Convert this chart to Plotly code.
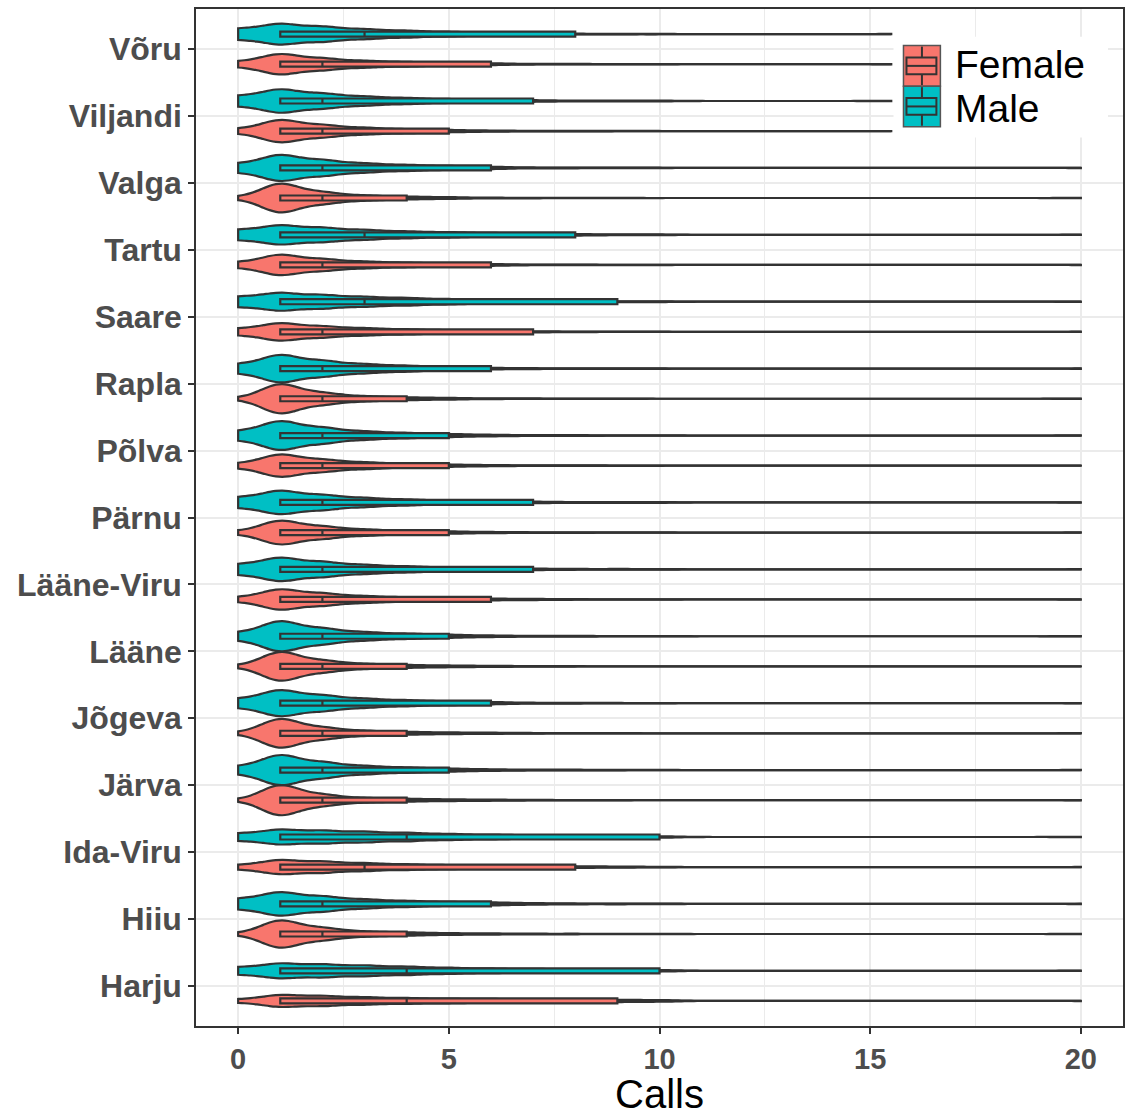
import numpy as np
import plotly.graph_objects as go

# Counties, listed bottom to top
counties = ["Harju", "Hiiu", "Ida-Viru", "Järva", "Jõgeva", "Lääne", "Lääne-Viru",
            "Pärnu", "Põlva", "Rapla", "Saare", "Tartu", "Valga", "Viljandi", "Võru"]

# Share of respondents (%) making 0, 1, ..., 10 calls
calls_grid = [0, 1, 2, 3, 4, 5, 6, 7, 8, 9, 10]

female_pct = [
    [6, 22, 18, 13, 10, 8, 7, 5, 4, 4, 3],          # Harju
    [3, 52, 22, 9, 6, 3, 2, 1, 1, 0.5, 0.5],        # Hiiu
    [8, 26, 20, 14, 10, 7, 5, 4, 3, 2, 1],          # Ida-Viru
    [2, 58, 20, 8, 5, 3, 2, 1, 0.5, 0.5, 0],        # Järva
    [3, 55, 21, 9, 5, 3, 2, 1, 0.5, 0.5, 0],        # Jõgeva
    [3, 55, 21, 9, 5, 3, 2, 1, 0.5, 0.5, 0],        # Lääne
    [8, 38, 22, 12, 8, 5, 3, 2, 1, 0.5, 0.5],       # Lääne-Viru
    [6, 45, 22, 11, 7, 4, 2, 1, 1, 0.5, 0.5],       # Pärnu
    [8, 42, 22, 12, 7, 4, 2, 1, 1, 0.5, 0.5],       # Põlva
    [3, 56, 21, 9, 5, 3, 1, 1, 0.5, 0.5, 0],        # Rapla
    [12, 32, 20, 13, 9, 6, 4, 2, 1, 0.5, 0.5],      # Saare
    [10, 38, 21, 12, 8, 5, 3, 1, 1, 0.5, 0.5],      # Tartu
    [4, 55, 21, 9, 5, 3, 1, 1, 0.5, 0.5, 0],        # Valga
    [8, 42, 22, 12, 7, 4, 2, 1, 1, 0.5, 0.5],       # Viljandi
    [10, 38, 21, 12, 8, 5, 3, 1, 1, 0.5, 0.5],      # Võru
]
male_pct = [
    [10, 20, 17, 14, 11, 8, 6, 5, 4, 3, 2],         # Harju
    [14, 32, 20, 12, 8, 5, 4, 2, 1, 1, 1],          # Hiiu
    [10, 20, 17, 14, 11, 8, 6, 5, 4, 3, 2],         # Ida-Viru
    [10, 42, 21, 11, 7, 4, 2, 1, 1, 0.5, 0.5],      # Järva
    [12, 36, 21, 12, 8, 5, 3, 1, 1, 0.5, 0.5],      # Jõgeva
    [10, 42, 21, 11, 7, 4, 2, 1, 1, 0.5, 0.5],      # Lääne
    [14, 32, 20, 12, 8, 5, 4, 2, 1, 1, 1],          # Lääne-Viru
    [14, 32, 20, 12, 8, 5, 4, 2, 1, 1, 1],          # Pärnu
    [12, 40, 21, 11, 7, 4, 2, 1, 1, 0.5, 0.5],      # Põlva
    [12, 38, 21, 12, 8, 4, 2, 1, 1, 0.5, 0.5],      # Rapla
    [14, 24, 18, 13, 10, 7, 5, 4, 3, 1, 1],         # Saare
    [14, 26, 19, 13, 9, 7, 5, 3, 2, 1, 1],          # Tartu
    [12, 36, 21, 12, 8, 5, 3, 1, 1, 0.5, 0.5],      # Valga
    [14, 32, 20, 12, 8, 5, 4, 2, 1, 1, 1],          # Viljandi
    [15, 28, 20, 13, 9, 6, 4, 3, 1, 0.5, 0.5],      # Võru
]

# Largest number of calls per county (same for both sexes)
max_calls = [20, 20, 20, 20, 20, 20, 20, 20, 20, 20, 20, 20, 20, 15.5, 15.5]

# Box-plot summaries (whiskers run to the largest value)
female_q1 = [1] * 15
female_median = [4, 2, 3, 2, 2, 2, 2, 2, 2, 2, 2, 2, 2, 2, 2]
female_q3 = [9, 4, 8, 4, 4, 4, 6, 5, 5, 4, 7, 6, 4, 5, 6]

male_q1 = [1] * 15
male_median = [4, 2, 4, 2, 2, 2, 2, 2, 2, 2, 3, 3, 2, 2, 3]
male_q3 = [10, 6, 10, 5, 6, 5, 7, 7, 5, 6, 9, 8, 6, 7, 8]

sexes = ["Female", "Male"]

FEMALE_COLOR = "#F8766D"
MALE_COLOR = "#00BFC4"
OUTLINE = "#333333"
DODGE = 0.225

# Plot-area geometry in pixels (used for the hand-built key)
W, H = 1132, 1116
ML, MR, MT, MB = 196, 7, 8, 80
PW, PH = W - ML - MR, H - MT - MB


def px_x(px):
    return (px - ML) / PW


def px_y(py):
    return (H - MB - py) / PH


def expand(pct_rows):
    """Turn percentage rows into sample values and matching positions."""
    xs, ys = [], []
    for i, (row, top) in enumerate(zip(pct_rows, max_calls)):
        counts = (np.array(row) * 2).astype(int)
        vals = list(np.repeat(calls_grid, counts)) + [top]
        xs.extend(vals)
        ys.extend([i] * len(vals))
    return np.array(xs, dtype=float), np.array(ys, dtype=float)


fig = go.Figure()

groups = [
    (sexes[0], female_pct, female_q1, female_median, female_q3, FEMALE_COLOR, -DODGE),
    (sexes[1], male_pct, male_q1, male_median, male_q3, MALE_COLOR, DODGE),
]

for name, pct, q1, med, q3, color, shift in groups:
    xs, ys = expand(pct)
    fig.add_trace(go.Violin(
        x=xs, y=ys + shift, orientation="h", name=name,
        showlegend=False, fillcolor=color, opacity=1,
        line=dict(color=OUTLINE, width=2.2),
        points=False, box_visible=False, meanline_visible=False,
        spanmode="hard", bandwidth=0.45,
        scalegroup="all", scalemode="count", width=0.45, side="both",
        hoverinfo="skip",
    ))

for name, pct, q1, med, q3, color, shift in groups:
    pos = np.arange(len(counties)) + shift
    fig.add_trace(go.Box(
        y=pos, q1=q1, median=med, q3=q3, lowerfence=q1, upperfence=max_calls,
        orientation="h", name=name, showlegend=False,
        fillcolor=color, line=dict(color=OUTLINE, width=2.2),
        width=0.075, whiskerwidth=0, boxpoints=False, hoverinfo="skip",
    ))

# Key: boxplot-over-violin glyphs with labels, top right inside the panel
shapes = [dict(type="rect", xref="paper", yref="paper",
               x0=px_x(895), x1=px_x(1110), y0=px_y(138), y1=px_y(36),
               fillcolor="white", line=dict(width=0), layer="above")]
annotations = []
key_tops = [45, 86]
label_y = [64, 109]
for (name, color), top, ly in zip([(sexes[0], FEMALE_COLOR), (sexes[1], MALE_COLOR)], key_tops, label_y):
    x0, x1 = 905, 942
    xm = (x0 + x1) / 2
    shapes.append(dict(type="rect", xref="paper", yref="paper",
                       x0=px_x(x0), x1=px_x(x1), y0=px_y(top + 41), y1=px_y(top),
                       fillcolor=color, line=dict(color="#555555", width=1.5), layer="above"))
    shapes.append(dict(type="rect", xref="paper", yref="paper",
                       x0=px_x(x0 + 3), x1=px_x(x1 - 4), y0=px_y(top + 29), y1=px_y(top + 12),
                       fillcolor=color, line=dict(color=OUTLINE, width=2), layer="above"))
    shapes.append(dict(type="line", xref="paper", yref="paper",
                       x0=px_x(x0 + 3), x1=px_x(x1 - 4), y0=px_y(top + 20.5), y1=px_y(top + 20.5),
                       line=dict(color=OUTLINE, width=2), layer="above"))
    shapes.append(dict(type="line", xref="paper", yref="paper",
                       x0=px_x(xm), x1=px_x(xm), y0=px_y(top + 12), y1=px_y(top + 1),
                       line=dict(color=OUTLINE, width=2), layer="above"))
    shapes.append(dict(type="line", xref="paper", yref="paper",
                       x0=px_x(xm), x1=px_x(xm), y0=px_y(top + 40), y1=px_y(top + 29),
                       line=dict(color=OUTLINE, width=2), layer="above"))
    annotations.append(dict(text=name, xref="paper", yref="paper",
                            x=px_x(955), y=px_y(ly), xanchor="left", yanchor="middle",
                            showarrow=False,
                            font=dict(size=39, color="black", family="Liberation Sans")))

fig.update_layout(
    width=W, height=H,
    margin=dict(l=ML, r=MR, t=MT, b=MB),
    paper_bgcolor="white", plot_bgcolor="white",
    violinmode="overlay", boxmode="overlay",
    font=dict(family="Liberation Sans", color="black"),
    showlegend=False,
    shapes=shapes, annotations=annotations,
    xaxis=dict(
        range=[-1, 21], tickvals=[0, 5, 10, 15, 20],
        tickfont=dict(size=29, color="#4D4D4D", family="Liberation Sans", weight="bold"),
        ticks="outside", ticklen=6, tickwidth=1.5, tickcolor=OUTLINE,
        showgrid=True, gridcolor="#EBEBEB", gridwidth=1.6,
        minor=dict(tickvals=[2.5, 7.5, 12.5, 17.5], showgrid=True,
                   gridcolor="#EBEBEB", gridwidth=1),
        showline=True, mirror=True, linecolor=OUTLINE, linewidth=1.5,
        zeroline=False,
        title=dict(text="Calls", font=dict(size=40, color="black", family="Liberation Sans"),
                   standoff=6),
    ),
    yaxis=dict(
        range=[-0.6, 14.6], tickvals=list(range(len(counties))), ticktext=counties,
        tickfont=dict(size=32, color="#4D4D4D", family="Liberation Sans", weight="bold"),
        ticks="outside", ticklen=6, tickwidth=1.5, tickcolor=OUTLINE,
        showgrid=True, gridcolor="#EBEBEB", gridwidth=1.6,
        showline=True, mirror=True, linecolor=OUTLINE, linewidth=1.5,
        zeroline=False,
    ),
)

fig.write_html("out.html")
